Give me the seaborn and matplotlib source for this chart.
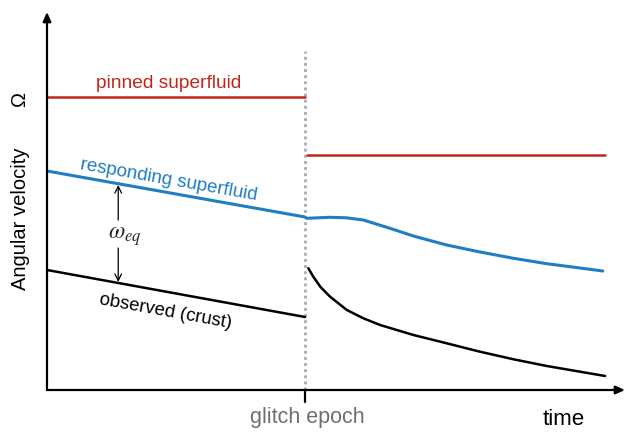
import matplotlib
matplotlib.use("Agg")
import matplotlib.pyplot as plt
import seaborn as sns
import numpy as np

# ---- data (time in arbitrary units, glitch at t = 1) ----
glitch_t = 1.0

pinned_pre_t = [0.0, 1.0]
pinned_pre_v = [2.93, 2.93]
pinned_post_t = [1.008, 2.163]
pinned_post_v = [2.35, 2.35]

resp_pre_t = [0.0, 1.0]
resp_pre_v = [2.19, 1.73]
resp_post_t = [1.006, 1.097, 1.160, 1.226, 1.329, 1.420, 1.549, 1.678, 1.808, 1.937, 2.066, 2.154]
resp_post_v = [1.717, 1.727, 1.722, 1.700, 1.617, 1.540, 1.450, 1.380, 1.317, 1.263, 1.220, 1.190]

obs_pre_t = [0.0, 1.0]
obs_pre_v = [1.20, 0.73]
obs_post_t = [1.013, 1.032, 1.060, 1.097, 1.162, 1.226, 1.291, 1.420, 1.549, 1.678, 1.808, 1.937, 2.066, 2.163]
obs_post_v = [1.217, 1.133, 1.030, 0.933, 0.800, 0.717, 0.650, 0.550, 0.467, 0.383, 0.307, 0.240, 0.183, 0.140]

RED = "#c0261a"
BLUE = "#1f7dc3"
GRAY = "#b0b0b0"

sns.set_theme(style="white")
plt.rcParams["font.family"] = ["Liberation Sans", "DejaVu Sans"]
plt.rcParams["mathtext.fontset"] = "stix"

fig = plt.figure(figsize=(6.26, 4.33), dpi=100)
ax = fig.add_axes([47 / 626, 43 / 433, (625 - 47) / 626, (390 - 12) / 433])
ax.set_xlim(0, 2.24)
ax.set_ylim(0, 3.78)
for s in ax.spines.values():
    s.set_visible(False)
ax.set_xticks([])
ax.set_yticks([])

# axes arrows
head = "-|>,head_length=0.45,head_width=0.2"
ax.annotate("", xy=(1, 0), xytext=(0, 0), xycoords="axes fraction",
            arrowprops=dict(arrowstyle=head, color="black", lw=1.6, shrinkA=0, shrinkB=0))
ax.annotate("", xy=(0, 1), xytext=(0, 0), xycoords="axes fraction",
            arrowprops=dict(arrowstyle=head, color="black", lw=1.6, shrinkA=0, shrinkB=0))

# glitch dotted line and tick
ax.plot([glitch_t, glitch_t], [0, 3.39], color=GRAY, lw=2.1, linestyle=(0, (1, 1.1)),
        solid_capstyle="butt", dash_capstyle="butt")
ax.plot([glitch_t, glitch_t], [0, -0.12], color="black", lw=1.6, clip_on=False)

# series
sns.lineplot(x=pinned_pre_t, y=pinned_pre_v, ax=ax, color=RED, lw=1.8)
sns.lineplot(x=pinned_post_t, y=pinned_post_v, ax=ax, color=RED, lw=1.8)
sns.lineplot(x=resp_pre_t, y=resp_pre_v, ax=ax, color=BLUE, lw=2.2)
sns.lineplot(x=resp_post_t, y=resp_post_v, ax=ax, color=BLUE, lw=2.2, sort=False)
sns.lineplot(x=obs_pre_t, y=obs_pre_v, ax=ax, color="black", lw=1.8)
sns.lineplot(x=obs_post_t, y=obs_post_v, ax=ax, color="black", lw=1.8, sort=False)

# labels on curves
ax.text(0.473, 3.07, "pinned superfluid", color=RED, fontsize=13.8, ha="center", va="center")
ax.text(0.473, 2.10, "responding superfluid", color=BLUE, fontsize=13.6, ha="center", va="center",
        rotation=-10, rotation_mode="anchor")
ax.text(0.461, 0.78, "observed (crust)", color="black", fontsize=13.4, ha="center", va="center",
        rotation=-10.3, rotation_mode="anchor")

# omega_eq arrows
arr = dict(arrowstyle="->,head_length=0.4,head_width=0.2", color="black", lw=0.9, shrinkA=0, shrinkB=0)
ax.annotate("", xy=(0.276, 2.05), xytext=(0.276, 1.70), arrowprops=arr)
ax.annotate("", xy=(0.276, 1.08), xytext=(0.276, 1.42), arrowprops=arr)
ax.text(0.302, 1.53, r"$\omega_{eq}$", fontsize=17, ha="center", va="center")

# axis texts
ax.text(-0.0467, 1.71, "Angular velocity", rotation=90, fontsize=14.5, ha="center", va="center",
        transform=ax.get_yaxis_transform(), color="black")
ax.text(-0.0467, 2.90, "Ω", rotation=90, fontsize=14.5, ha="center", va="center",
        transform=ax.get_yaxis_transform(), color="black")
ax.text(1.008, -0.072, "glitch epoch", fontsize=15.5, color="#6e6e6e", ha="center", va="center",
        transform=ax.get_xaxis_transform())
ax.text(2.004, -0.077, "time", fontsize=16, color="black", ha="center", va="center",
        transform=ax.get_xaxis_transform())

fig.savefig("out.png", dpi=100)
